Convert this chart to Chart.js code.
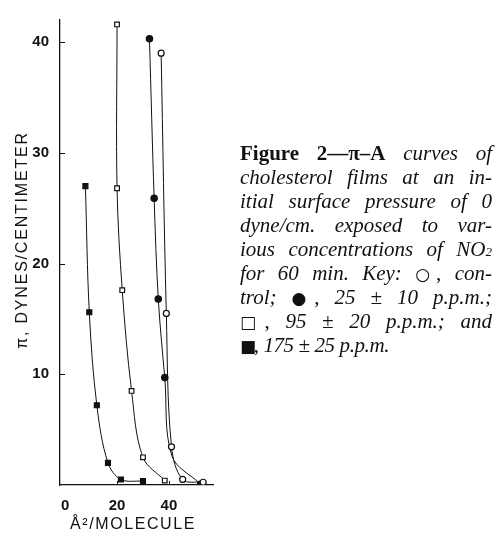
<!DOCTYPE html>
<html>
<head>
<meta charset="utf-8">
<script src="https://cdn.jsdelivr.net/npm/chart.js@4.4.1/dist/chart.umd.min.js"></script>
<style>
  html, body { margin: 0; padding: 0; background: #fff; }
  #wrap { position: absolute; left: 0; top: 0; width: 497px; height: 540px; }
  #cap { position: absolute; left: 240px; top: 141px; width: 252px;
         font-family: "Liberation Serif", "DejaVu Serif", serif; font-size: 21px; line-height: 24px; color: #111; }
  #cap div { text-align: justify; text-align-last: justify; white-space: nowrap; height: 24px; }
  #cap div.last { text-align-last: left; letter-spacing: -0.4px; }
  #cap i { font-style: italic; }
  #cap b { font-weight: bold; }
  #cap .sym { font-family: "DejaVu Sans", sans-serif; font-size: 17px; line-height: 10px; margin-right: -2px; }
</style>
</head>
<body>
<div id="wrap"><canvas id="c" width="497" height="540"></canvas></div>
<div id="cap">
  <div><b>Figure 2—π–A</b> <i>curves of</i></div>
  <div><i>cholesterol films at an in-</i></div>
  <div><i>itial surface pressure of 0</i></div>
  <div><i>dyne/cm. exposed to var-</i></div>
  <div><i>ious concentrations of NO<span style="font-size:13px;">2</span></i></div>
  <div><i>for 60 min. Key:</i> <span class="sym">○</span>, <i>con-</i></div>
  <div><i>trol;</i> <span class="sym">●</span>, <i>25 ± 10 p.p.m.;</i></div>
  <div><span class="sym">□</span>, <i>95 ± 20 p.p.m.; and</i></div>
  <div class="last"><span class="sym">■</span>, <i>175 ± 25 p.p.m.</i></div>
</div>
<script>
// Data (x: Å²/molecule, y: dynes/cm)
const xTicks = [0, 20, 40];
const yTicks = [10, 20, 30, 40];

const controlX = [37, 39, 41, 45.3, 53.2];
const controlY = [39, 15.5, 3.45, 0.5, 0.25];

const ppm25X = [32.5, 34.3, 35.9, 38.4, 41.2, 52];
const ppm25Y = [40.3, 25.9, 16.8, 9.7, 2.6, 0.12];

const ppm95X = [20, 20, 22, 25.6, 30, 38.4];
const ppm95Y = [41.6, 26.8, 17.6, 8.5, 2.5, 0.4];

const ppm175X = [7.8, 9.3, 12.2, 16.5, 21.5, 30];
const ppm175Y = [27.0, 15.6, 7.2, 2.0, 0.5, 0.35];

const seriesNames = ['control', '25 ± 10 p.p.m.', '95 ± 20 p.p.m.', '175 ± 25 p.p.m.'];
const xTitle = 'Å²/MOLECULE';
const yTitle = 'π, DYNES/CENTIMETER';

function pts(xs, ys) { return xs.map((x, i) => ({ x: x, y: ys[i] })); }

const extras = {
  id: 'extras',
  afterDraw(chart) {
    const ctx = chart.ctx;
    const xs = chart.scales.x, ys = chart.scales.y;
    ctx.save();
    ctx.strokeStyle = '#111';
    ctx.lineWidth = 1;
    ctx.beginPath();
    yTicks.forEach(v => {
      const py = Math.round(ys.getPixelForValue(v)) + 0.5;
      ctx.moveTo(xs.left, py); ctx.lineTo(xs.left + 5, py);
    });
    xTicks.slice(1).forEach(v => {
      const px = Math.round(xs.getPixelForValue(v)) + 0.5;
      ctx.moveTo(px, ys.bottom); ctx.lineTo(px, ys.bottom - 4);
    });
    ctx.stroke();
    // axis titles
    ctx.fillStyle = '#111';
    ctx.textAlign = 'center';
    ctx.textBaseline = 'middle';
    ctx.font = '16px "Liberation Sans"';
    ctx.letterSpacing = '1.6px';
    ctx.fillText(xTitle, 133, 525);
    ctx.translate(23, 240);
    ctx.rotate(-Math.PI / 2);
    ctx.font = '16px "Liberation Sans"';
    ctx.letterSpacing = '1.8px';
    ctx.fillText(yTitle, 0, 0);
    ctx.restore();
  }
};

const common = { borderColor: '#111', borderWidth: 1, tension: 0.35, showLine: true,
  pointBorderColor: '#111', pointBorderWidth: 1.2, pointHoverRadius: 3 };

new Chart(document.getElementById('c'), {
  type: 'scatter',
  data: {
    datasets: [
      Object.assign({}, common, { label: seriesNames[0], data: pts(controlX, controlY),
        pointStyle: 'circle', pointRadius: 3, pointBackgroundColor: '#fff' }),
      Object.assign({}, common, { label: seriesNames[1], data: pts(ppm25X, ppm25Y),
        pointStyle: 'circle', pointRadius: [3.2, 3.2, 3.2, 3.2, 0, 2.5], pointBackgroundColor: '#111' }),
      Object.assign({}, common, { label: seriesNames[2], data: pts(ppm95X, ppm95Y),
        pointStyle: 'rect', pointRadius: 3.3, pointBackgroundColor: '#fff' }),
      Object.assign({}, common, { label: seriesNames[3], data: pts(ppm175X, ppm175Y),
        pointStyle: 'rect', pointRadius: 3.5, pointBackgroundColor: '#111' })
    ]
  },
  options: {
    responsive: false,
    animation: false,
    layout: { padding: { top: 12, right: 284, left: 0, bottom: 0 } },
    plugins: { legend: { display: false }, tooltip: { enabled: false } },
    scales: {
      x: {
        type: 'linear', min: -2, max: 57,
        afterBuildTicks: s => { s.ticks = xTicks.map(v => ({ value: v })); },
        afterFit: s => { s.height = 55; },
        grid: { display: false, drawTicks: false },
        border: { display: true, color: '#111', width: 1.3 },
        ticks: { padding: 12, color: '#111', font: { family: 'Liberation Sans', size: 15, weight: 'bold' } },
        title: { display: false }
      },
      y: {
        type: 'linear', min: 0, max: 42,
        afterBuildTicks: s => { s.ticks = yTicks.map(v => ({ value: v })); },
        afterFit: s => { s.width = 60; },
        grid: { display: false, drawTicks: false },
        border: { display: true, color: '#111', width: 1.3 },
        ticks: { padding: 11, color: '#111', font: { family: 'Liberation Sans', size: 15, weight: 'bold' } },
        title: { display: false }
      }
    }
  },
  plugins: [extras]
});
</script>
</body>
</html>
